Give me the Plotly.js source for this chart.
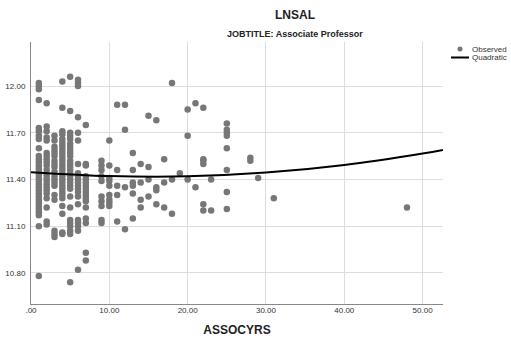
<!DOCTYPE html>
<html>
<head>
<meta charset="utf-8">
<script src="https://cdn.plot.ly/plotly-3.0.1.min.js"></script>
<style>html,body{margin:0;padding:0;background:#fff;}#chart{width:511px;height:344px;}</style>
</head>
<body>
<div id="chart"></div>
<script>
// Observed points, grouped by ASSOCYRS value
const yrs1 = [12.02, 12.00, 11.98, 11.91, 11.73, 11.71, 11.68, 11.66, 11.60, 11.55, 11.53, 11.51, 11.49, 11.47, 11.45, 11.43, 11.41, 11.39, 11.37, 11.35, 11.33, 11.31, 11.29, 11.27, 11.25, 11.23, 11.21, 11.19, 11.17, 11.10, 10.78];
const yrs2 = [11.89, 11.74, 11.71, 11.67, 11.65, 11.57, 11.55, 11.53, 11.51, 11.49, 11.46, 11.43, 11.41, 11.39, 11.37, 11.35, 11.33, 11.31, 11.28, 11.22, 11.13, 11.11];
const yrs3 = [11.68, 11.65, 11.61, 11.59, 11.57, 11.55, 11.52, 11.50, 11.48, 11.45, 11.42, 11.40, 11.38, 11.36, 11.30, 11.27, 11.07, 11.05, 11.03];
const yrs4 = [12.03, 11.86, 11.71, 11.69, 11.66, 11.64, 11.62, 11.60, 11.58, 11.56, 11.54, 11.52, 11.50, 11.48, 11.46, 11.44, 11.42, 11.40, 11.38, 11.36, 11.34, 11.32, 11.30, 11.28, 11.23, 11.18, 11.06, 11.05];
const yrs5 = [12.06, 11.84, 11.70, 11.68, 11.66, 11.63, 11.61, 11.59, 11.57, 11.55, 11.52, 11.50, 11.48, 11.46, 11.44, 11.42, 11.40, 11.38, 11.36, 11.34, 11.29, 11.22, 11.14, 11.12, 11.10, 11.07, 11.05, 10.74];
const yrs6 = [12.04, 12.02, 12.00, 11.80, 11.70, 11.65, 11.50, 11.44, 11.42, 11.40, 11.38, 11.36, 11.34, 11.32, 11.29, 11.24, 11.14, 11.12, 11.10, 11.07, 10.82];
const yrs7 = [11.75, 11.50, 11.49, 11.42, 11.40, 11.38, 11.36, 11.34, 11.32, 11.30, 11.28, 11.26, 11.22, 11.15, 11.12, 10.93, 10.88];
const yrs9 = [11.52, 11.49, 11.46, 11.42, 11.39, 11.29, 11.26, 11.23, 11.14, 11.12];
const yrs10 = [11.65, 11.49, 11.41, 11.39, 11.36, 11.30, 11.27, 11.25, 11.23];
const yrs11 = [11.88, 11.46, 11.36, 11.30, 11.13];
const yrs12 = [11.88, 11.72, 11.35, 11.08];
const yrs13 = [11.57, 11.46, 11.38, 11.36, 11.31, 11.15];
const yrs14 = [11.50, 11.38, 11.27, 11.22];
const yrs15 = [11.81, 11.48, 11.40, 11.29];
const yrs16 = [11.78, 11.35, 11.33, 11.24];
const yrs17 = [11.53, 11.38, 11.22];
const yrs18 = [12.02, 11.40, 11.18];
const yrs19 = [11.44];
const yrs20 = [11.85, 11.68, 11.40];
const yrs21 = [11.89, 11.35];
const yrs22 = [11.86, 11.53, 11.52, 11.50, 11.24, 11.20];
const yrs23 = [11.40, 11.20];
const yrs25 = [11.76, 11.72, 11.70, 11.68, 11.60, 11.46, 11.32, 11.21];
const yrs28 = [11.54, 11.52];
const yrs29 = [11.41];
const yrs31 = [11.28];
const yrs48 = [11.22];

const groups = [
  [1, yrs1], [2, yrs2], [3, yrs3], [4, yrs4], [5, yrs5], [6, yrs6], [7, yrs7],
  [9, yrs9], [10, yrs10], [11, yrs11], [12, yrs12], [13, yrs13], [14, yrs14],
  [15, yrs15], [16, yrs16], [17, yrs17], [18, yrs18], [19, yrs19], [20, yrs20],
  [21, yrs21], [22, yrs22], [23, yrs23], [25, yrs25], [28, yrs28], [29, yrs29],
  [31, yrs31], [48, yrs48]
];

// Quadratic fit curve
const fitX = [0, 10, 20, 30, 40, 50, 52.6];
const fitY = [11.447, 11.422, 11.420, 11.444, 11.493, 11.567, 11.590];

const xTickVals = [0, 10, 20, 30, 40, 50];
const xTickText = ['.00', '10.00', '20.00', '30.00', '40.00', '50.00'];
const yTickVals = [10.8, 11.1, 11.4, 11.7, 12.0];
const yTickText = ['10.80', '11.10', '11.40', '11.70', '12.00'];
const legendNames = ['Observed', 'Quadratic'];

const obsX = [], obsY = [];
groups.forEach(([x, ys]) => ys.forEach(y => { obsX.push(x); obsY.push(y); }));

const FONT = 'Liberation Sans, Arial, sans-serif';
const DOT = '#777777';

// plot-area geometry (pixels) used for the hand-placed legend key
const L = 31, R = 68, T = 42, B = 40, W = 511, H = 344;
const pw = W - L - R, ph = H - T - B;
const px = p => (p - L) / pw;
const py = p => 1 - (p - T) / ph;

const traces = [
  {
    type: 'scatter', mode: 'markers', name: legendNames[0],
    x: obsX, y: obsY,
    marker: {color: DOT, size: 6.5, line: {width: 0}},
    hoverinfo: 'skip', showlegend: false
  },
  {
    type: 'scatter', mode: 'lines', name: legendNames[1],
    x: fitX, y: fitY,
    line: {color: '#000000', width: 2, shape: 'spline'},
    hoverinfo: 'skip', showlegend: false
  }
];

const layout = {
  width: W, height: H,
  margin: {l: L, r: R, t: T, b: B, autoexpand: false},
  paper_bgcolor: '#ffffff', plot_bgcolor: '#ffffff',
  font: {family: FONT, size: 8, color: '#333333'},
  title: {
    text: '<b>LNSAL</b>',
    font: {family: FONT, size: 12, color: '#222222'},
    xref: 'container', yref: 'container',
    x: 295 / W, xanchor: 'center',
    y: 1 - 15 / H, yanchor: 'middle'
  },
  annotations: [
    {
      text: '<b>JOBTITLE: Associate Professor</b>',
      xref: 'paper', yref: 'paper',
      x: px(295), y: py(34),
      xanchor: 'center', yanchor: 'middle',
      showarrow: false,
      font: {family: FONT, size: 9, color: '#222222'}
    },
    {
      text: legendNames[0], xref: 'paper', yref: 'paper',
      x: px(470), y: py(49), xanchor: 'left', yanchor: 'middle',
      showarrow: false, font: {family: FONT, size: 8, color: '#333333'}
    },
    {
      text: legendNames[1], xref: 'paper', yref: 'paper',
      x: px(470), y: py(57.5), xanchor: 'left', yanchor: 'middle',
      showarrow: false, font: {family: FONT, size: 8, color: '#333333'}
    }
  ],
  shapes: [
    {
      type: 'circle', xref: 'paper', yref: 'paper',
      x0: px(457.5), x1: px(462.5), y0: py(51.5), y1: py(46.5),
      fillcolor: DOT, line: {width: 0}
    },
    {
      type: 'line', xref: 'paper', yref: 'paper',
      x0: px(451), x1: px(469), y0: py(57.5), y1: py(57.5),
      line: {color: '#000000', width: 2}
    }
  ],
  xaxis: {
    range: [0, 52.6],
    tickvals: xTickVals, ticktext: xTickText,
    showgrid: true, gridcolor: '#dddddd', gridwidth: 1,
    zeroline: false,
    showline: true, linecolor: '#888888', linewidth: 1,
    ticks: '', ticklabelstandoff: -2,
    tickfont: {family: FONT, size: 8, color: '#333333'},
    title: {text: '<b>ASSOCYRS</b>', font: {family: FONT, size: 12, color: '#222222'}, standoff: 12}
  },
  yaxis: {
    range: [10.6, 12.283],
    tickvals: yTickVals, ticktext: yTickText,
    showgrid: true, gridcolor: '#dddddd', gridwidth: 1,
    zeroline: false,
    showline: true, linecolor: '#888888', linewidth: 1,
    ticks: 'outside', ticklen: 3, tickcolor: 'rgba(0,0,0,0)',
    tickfont: {family: FONT, size: 8, color: '#333333'}
  },
  showlegend: false
};

Plotly.newPlot('chart', traces, layout, {displayModeBar: false, staticPlot: true});
</script>
</body>
</html>
